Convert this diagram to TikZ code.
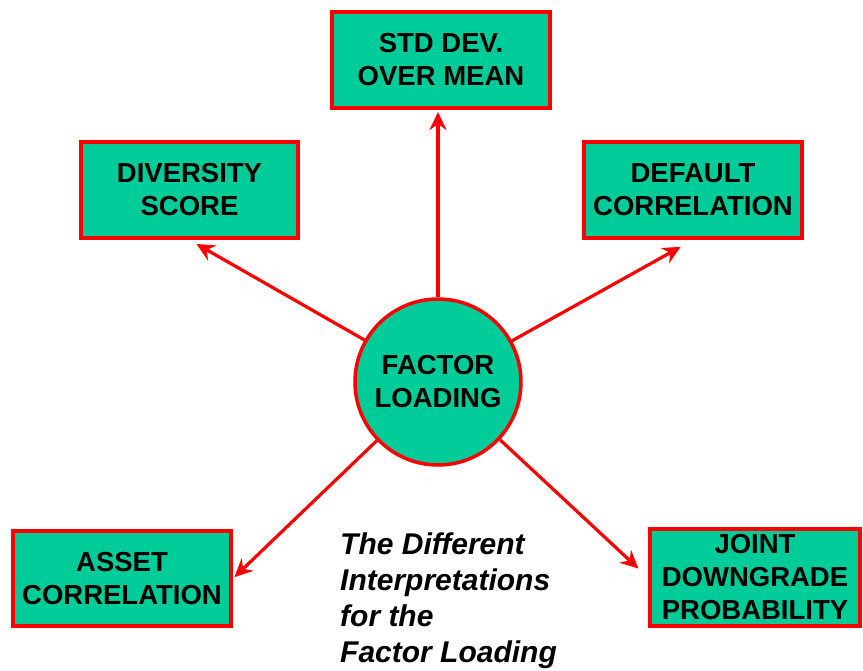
\documentclass[tikz,border=0pt]{standalone}
\usepackage{fontspec}
\setmainfont{Liberation Sans}
\usepackage{tikz}
\usetikzlibrary{arrows.meta,positioning}
\definecolor{boxgreen}{RGB}{0,204,153}
\tikzset{
    measure/.style={
    rectangle,draw=red,fill=boxgreen,line width=4pt,align=center,
    inner sep=0pt,font=\bfseries\fontsize{27.5}{33}\selectfont
    },
    factor/.style={
    circle,draw=red,fill=boxgreen,line width=3.5pt,align=center,
    inner sep=0pt,minimum size=166pt,font=\bfseries\fontsize{27.5}{33}\selectfont
    },
    interp/.style={
    draw=red,line width=3.2pt,-{Stealth[length=18pt,width=17pt,inset=6pt]}
    },
}

\begin{document}
\begin{tikzpicture}[x=1pt,y=1pt]
   \useasboundingbox (0,0) rectangle (863,-671);
   \node[factor] (fl) at (438,-382) {FACTOR\\LOADING};
   \node[measure,minimum width=218pt,minimum height=96pt] (std) at (441,-60) {STD DEV.\\OVER MEAN};
   \node[measure,minimum width=217pt,minimum height=96pt] (div) at (189.5,-190) {DIVERSITY\\SCORE};
   \node[measure,minimum width=218pt,minimum height=96pt] (def) at (693,-190) {DEFAULT\\CORRELATION};
   \node[measure,minimum width=218pt,minimum height=95pt] (asset) at (122,-578.5) {ASSET\\CORRELATION};
   \node[measure,minimum width=210pt,minimum height=97pt] (joint) at (755,-577.5) {JOINT\\DOWNGRADE\\PROBABILITY};
   \node[align=left,anchor=north west,inner sep=0pt,
         font=\bfseries\itshape\fontsize{30}{36}\selectfont] (cap) at (340,-533)
        {The Different\\Interpretations\\for the\\Factor Loading};

  \path[interp]
    (fl) edge[shorten >=2pt] (fl.north |- std.south)
    (fl) edge[shorten >=8pt] (div.south)
    (fl) edge[shorten >=14pt] (def.south)
    (fl) edge[shorten >=2pt] (asset.east)
    (fl) edge[shorten >=13pt] (joint.west);
  \end{tikzpicture}
\end{document}
